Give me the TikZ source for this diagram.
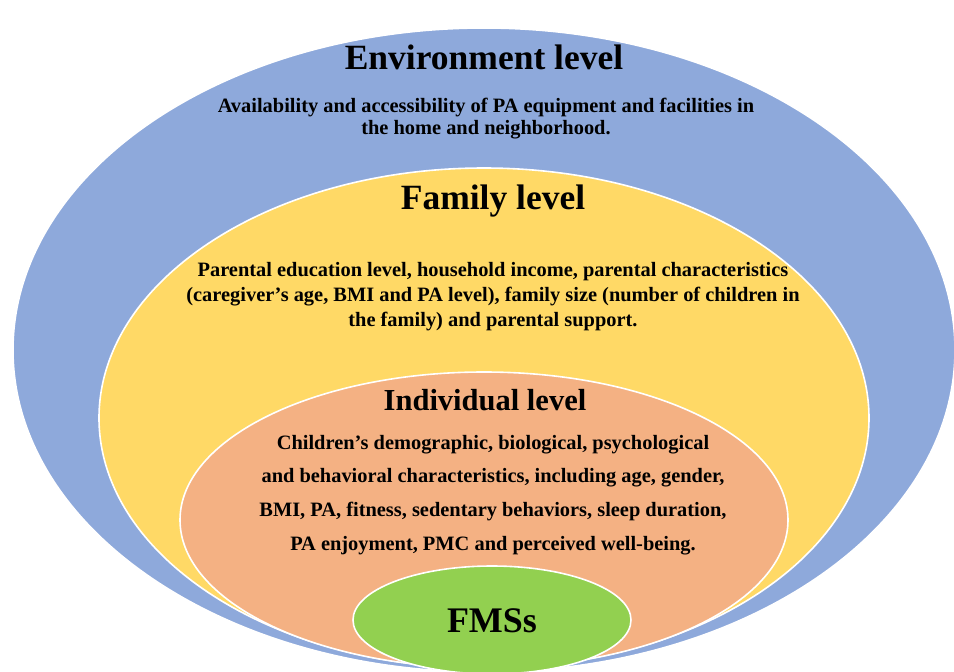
\documentclass[tikz,border=0pt]{standalone}
\usepackage{fontspec}
\setmainfont{Liberation Serif}
\definecolor{envblue}{HTML}{8EA9DB}
\definecolor{famyellow}{HTML}{FFD966}
\definecolor{indorange}{HTML}{F4B183}
\definecolor{coregreen}{HTML}{92D050}
\tikzset{
  ring/.style={draw=white, line width=1.6pt},
  heading/.style={font=\bfseries\fontsize{#1}{#1}\selectfont, inner sep=0pt, anchor=center},
  body/.style 2 args={font=\bfseries\fontsize{#1}{#2}\selectfont, align=center, inner sep=0pt, anchor=center}
}
\begin{document}
\begin{tikzpicture}[x=1pt, y=-1pt]
  \useasboundingbox (0,0) rectangle (954,672);
  \clip (0,0) rectangle (954,672);
  % nested levels, outermost first
  \fill[envblue, ring] (484,350) ellipse [x radius=471, y radius=322];
  \fill[famyellow, ring] (484,418) ellipse [x radius=385, y radius=250];
  \fill[indorange, ring] (484,520) ellipse [x radius=304, y radius=148];
  \fill[coregreen, ring] (492,620) ellipse [x radius=139, y radius=54];

  % environment level
  \node[heading=35.5] (envtitle) at (484,57) {Environment level};
  \node[body={20.4}{22}] (envtext) at (486,119)
    {Availability and accessibility of PA equipment and facilities in\\
     the home and neighborhood.};

  % family level
  \node[heading=35.5] (famtitle) at (493,201) {Family level};
  \node[body={20.4}{25}] (famtext) at (493,297)
    {Parental education level, household income, parental characteristics\\
     (caregiver’s age, BMI and PA level), family size (number of children in\\
     the family) and parental support.};

  % individual level
  \node[heading=30.5] (indtitle) at (485,400) {Individual level};
  \node[body={20.4}{33.7}] (indtext) at (493,495)
    {Children’s demographic, biological, psychological\\
     and behavioral characteristics, including age, gender,\\
     BMI, PA, fitness, sedentary behaviors, sleep duration,\\
     PA enjoyment, PMC and perceived well-being.};

  % core outcome
  \node[heading=36] (core) at (492,621) {FMSs};
\end{tikzpicture}
\end{document}
